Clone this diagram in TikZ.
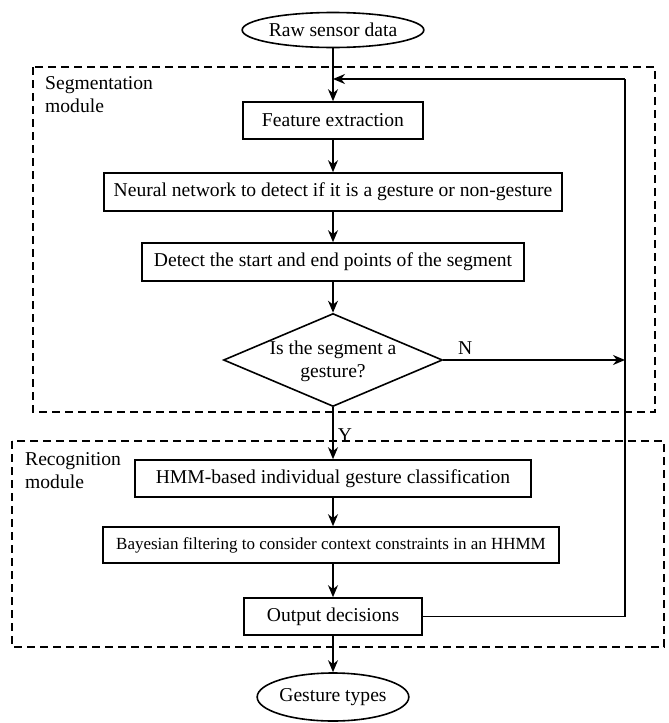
\documentclass[tikz,border=0pt]{standalone}
\usepackage{fontspec}
\setmainfont{Liberation Serif}
\usetikzlibrary{shapes.geometric,arrows.meta}
\begin{document}
\begin{tikzpicture}[x=1pt,y=-1pt,
  every node/.style={font=\fontsize{19.6}{23}\selectfont, inner sep=0pt},
  stepbox/.style={draw, line width=1.6pt, rectangle, minimum height=37pt},
  terminal/.style={draw, line width=1.6pt, ellipse},
  modulebox/.style={draw, line width=1.4pt, dash pattern=on 8pt off 5pt},
  flow/.style={line width=1.6pt, -{Stealth[length=12pt,width=10pt]}},
  plain/.style={line width=1.6pt}]
\useasboundingbox (0,0) rectangle (669,723);

% module frames
\draw[modulebox] (33,67) rectangle (655,412);
\draw[modulebox] (12,441) rectangle (664,647);
\node[anchor=north west, align=left] (seglabel) at (45,76) {Segmentation\\module};
\node[anchor=north west, align=left] (reclabel) at (25,452) {Recognition\\module};

% terminals
\node[terminal, minimum width=156pt, minimum height=35pt] (raw) at (333,30) {Raw sensor data};
\node[terminal, minimum width=134pt, minimum height=48pt] (types) at (333,697) {Gesture types};

% processing steps
\node[stepbox, minimum width=180pt] (feat) at (333,120.5) {Feature extraction};
\node[stepbox, minimum width=458pt, minimum height=38pt] (nn) at (333,192) {Neural network to detect if it is a gesture or non-gesture};
\node[stepbox, minimum width=382pt, minimum height=38pt] (det) at (333,262) {Detect the start and end points of the segment};
\node[draw, line width=1.6pt, diamond, minimum width=219pt, minimum height=93pt] (dec) at (333,360) {};
\node[align=center] (dectext) at (333,361) {Is the segment a\\gesture?};
\node[stepbox, minimum width=396pt] (hmm) at (333,478.5) {HMM-based individual gesture classification};
\node[stepbox, minimum width=456pt, minimum height=36pt, font=\fontsize{17}{20}\selectfont] (bay) at (331,545) {Bayesian filtering to consider context constraints in an HHMM};
\node[stepbox, minimum width=178pt] (out) at (333,616.5) {Output decisions};

% feedback loop corners
\coordinate (loopbot) at (625,616.5);
\coordinate (looptop) at (625,79);
\coordinate (loopin) at (333,79);

% main flow
\draw[flow] (raw) -- (feat);
\draw[flow] (feat) -- (nn);
\draw[flow] (nn) -- (det);
\draw[flow] (det) -- (dec);
\draw[flow] (dec) -- node[pos=0.5, anchor=west, xshift=4pt, yshift=-2pt] (ylabel) {Y} (hmm);
\draw[flow] (hmm) -- (bay.north -| hmm);
\draw[flow] (bay.south -| out) -- (out);
\draw[flow] (out) -- (types);

% rejection path and feedback
\draw[flow] (dec.east) -- node[pos=0.12, anchor=south, yshift=5pt] (nlabel) {N} (dec.east -| loopbot);
\draw[plain] (out.east) -- (loopbot) -- (looptop);
\draw[flow] (looptop) -- (loopin);
\end{tikzpicture}
\end{document}
